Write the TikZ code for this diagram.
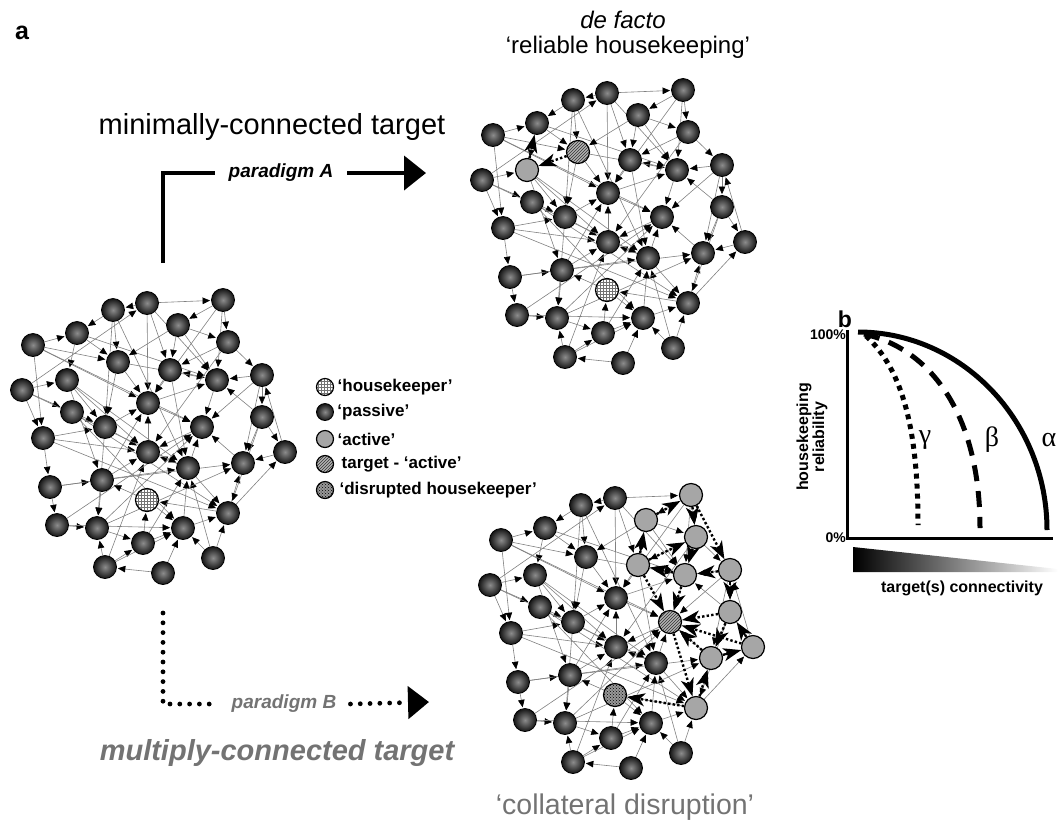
\documentclass[tikz,border=0pt]{standalone}
\usepackage{fontspec}
\setmainfont{Liberation Sans}
\newfontfamily\serifgreek{Liberation Serif}
\usetikzlibrary{arrows.meta,patterns,backgrounds,positioning}

\newcommand\fs[1]{\fontsize{#1}{#1}\selectfont}

\tikzset{
  ball/.style={circle,draw=black,minimum size=23pt,inner sep=0pt,line width=0.8pt},
  passive/.style={ball,inner color=black!45,outer color=black!92},
  active/.style={ball,fill=black!35,line width=1.2pt},
  housekeeper/.style={ball,preaction={fill=white},pattern=grid,pattern color=black!55,line width=1.2pt},
  target/.style={ball,preaction={fill=black!30},pattern=north east lines,pattern color=black!80,line width=1.2pt},
  disrupted/.style={ball,preaction={fill=black!40},pattern=crosshatch dots,pattern color=black,line width=1.2pt},
  kind/.code={\pgfkeysifdefined{/tikz/#1/.@cmd}{\pgfkeysalso{#1}}{\pgfkeysalso{passive}}},
  link/.style={draw=black!50,line width=0.6pt,-{Triangle[length=7.5pt,width=6.5pt,color=black]},shorten >=1pt},
  boldlink/.style={line width=2.4pt,dash pattern=on 2.4pt off 2.2pt,-{Stealth[length=18pt,width=13pt,inset=5pt]}},
  dotpath/.style={line width=4.8pt,dash pattern=on 0pt off 9.8pt,line cap=round},
  % special nodes of each network
  L26/.style={housekeeper},
  T26/.style={housekeeper}, T8/.style={target}, T10/.style={active},
  B26/.style={disrupted}, B17/.style={target},
  B3/.style={active}, B4/.style={active}, B7/.style={active}, B9/.style={active},
  B12/.style={active}, B13/.style={active}, B18/.style={active}, B21/.style={active},
  B22/.style={active}, B27/.style={active},
}

% node layout of the network (left copy, pixels)
\def\netnodes{1/113/310,2/147/303,3/223/300,4/178/325,5/77/333,6/33/345,7/228/342,
  8/118/362,9/170/370,10/67/380,11/22/390,12/217/380,13/262/375,14/148/403,15/72/412,
  16/105/427,17/202/427,18/262/417,19/43/438,20/148/452,21/285/452,22/243/463,23/188/468,
  24/102/480,25/50/487,26/147/500,27/228/513,28/57/525,29/97/528,30/183/528,31/143/543,
  32/213/558,33/105/567,34/163/573}
\def\netedges{2/3,3/4,4/9,2/14,2/9,1/8,1/16,6/5,6/8,5/8,11/10,11/15,11/19,11/2,6/19,
  3/7,7/13,13/12,12/9,7/9,9/14,8/14,13/18,18/21,18/12,12/17,14/17,10/16,10/24,15/16,
  16/14,16/20,19/16,19/20,19/25,20/14,21/22,27/21,27/22,22/17,18/22,23/20,23/17,24/14,
  24/20,24/29,25/28,25/24,28/29,27/26,30/27,26/30,31/26,33/31,34/33,32/30,32/23,33/20,
  33/29,34/30,16/29,10/23,15/27,6/14,8/12,15/30,28/17,29/22,13/17,32/27,4/7,1/5,5/10,
  14/12,8/16,3/12,21/13,17/20,26/24,29/31,31/30,30/23,23/27,2/1,4/12,
  6/17,11/23,5/12,1/23,3/14,7/20,19/27,25/23,28/30,29/17,10/20,4/8,9/23,13/22,18/27,
  2/12,31/23,33/30,24/22}

\newcommand\drawnet[1]{%
  \foreach \i/\px/\py in \netnodes {\node[kind/.expanded=#1\i] (#1\i) at (\px,\py) {};}
  \begin{pgfonlayer}{background}
    \foreach \a/\b in \netedges {\draw[link] (#1\a) -- (#1\b);}
  \end{pgfonlayer}
}

\begin{document}
\begin{tikzpicture}[x=1pt,y=-1pt]
  \useasboundingbox (0,0) rectangle (1060,831);

  \node[font=\bfseries\fs{25}] (lbla) at (22,33) {a};

  % networks
  \drawnet{L}
  \begin{scope}[shift={(460,-210)}]
    \drawnet{T}
    \draw[boldlink] (T8) -- (T10);
    \draw[boldlink] (T10) -- (T5);
  \end{scope}
  \begin{scope}[shift={(468,195)}]
    \drawnet{B}
    \foreach \a/\b in {4/3,3/7,3/13,9/7,7/12,13/12,12/9,12/17,9/17,13/18,18/17,21/17,
      18/22,22/21,27/22,17/27,22/17,27/26,21/18,9/4}
      {\draw[boldlink] (B\a) -- (B\b);}
  \end{scope}

  % titles
  \node[font=\itshape\fs{24}] (facto) at (623,20) {de facto};
  \node[font=\fs{24}] (reliable) at (628,47) {‘reliable housekeeping’};
  \node[font=\fs{29}] (minimal) at (272,127) {minimally-connected target};
  \node[font=\bfseries\itshape\fs{29},text=black!55] (multiply) at (277,753) {multiply-connected target};
  \node[font=\fs{28.5},text=black!55] (collateral) at (625,807) {‘collateral disruption’};

  % paradigm A
  \coordinate (startA) at (163,263);
  \coordinate (endA) at (426,173);
  \node[font=\bfseries\itshape\fs{19},inner xsep=14pt] (pA) at (281,173) {paradigm A};
  \draw[line width=4pt] (startA) |- (pA.west);
  \draw[line width=4pt,-{Triangle[length=22pt,width=34pt]}] (pA.east) -- (endA);

  % paradigm B
  \coordinate (startB) at (163,613);
  \coordinate (endB) at (429,702);
  \node[font=\bfseries\itshape\fs{19},text=black!55,inner xsep=14pt] (pB) at (284,704) {paradigm B};
  \draw[dotpath] (startB) |- (pB.west);
  \draw[dotpath,-{Triangle[length=21pt,width=32pt]}] (pB.east) -- (endB);

  % legend
  \node[housekeeper,minimum size=17pt] (lg1) at (325,387) {};
  \node[passive,minimum size=17pt] (lg2) at (325,412) {};
  \node[active,minimum size=17pt] (lg3) at (325,439) {};
  \node[target,minimum size=17pt] (lg4) at (325,464) {};
  \node[disrupted,minimum size=17pt] (lg5) at (325,490) {};
  \node[right=0pt of lg1,font=\bfseries\fs{17}] (lt1) {‘housekeeper’};
  \node[right=0pt of lg2,font=\bfseries\fs{17}] (lt2) {‘passive’};
  \node[right=0pt of lg3,font=\bfseries\fs{17}] (lt3) {‘active’};
  \node[right=4pt of lg4,font=\bfseries\fs{17}] (lt4) {target - ‘active’};
  \node[right=2pt of lg5,font=\bfseries\fs{17}] (lt5) {‘disrupted housekeeper’};

  % panel b
  \node[font=\bfseries\fs{23}] (lblb) at (845,319) {b};
  \coordinate (ytop) at (847,330);
  \coordinate (orig) at (847,538);
  \coordinate (xend) at (1053,538);
  \draw[line width=3pt] (ytop) -- (orig) -- (xend);
  \node[anchor=east,font=\bfseries\fs{14},inner sep=1pt] (hundred) at (ytop |- 0,335) {100\%};
  \node[anchor=east,font=\bfseries\fs{14},inner sep=1pt] (zero) at (orig) {0\%};
  \node[rotate=90,align=center,font=\bfseries\fs{16}] (ylab) at (812,437) {housekeeping\\reliability};
  \shade[left color=black,right color=white] (853,547) -- (1058,569) -- (1058,572) -- (853,572) -- cycle;
  \node[font=\bfseries\fs{16}] (xlab) at (962,588) {target(s) connectivity};
  \draw[line width=5pt] (858,332) .. controls (962,332) and (1047,421) .. (1047,530);
  \draw[line width=5pt,dash pattern=on 16pt off 10pt] (864,334) .. controls (935,350) and (980,420) .. (980,528);
  \draw[line width=5pt,dash pattern=on 5pt off 5pt] (866,336) .. controls (903,370) and (918,430) .. (918,525);
  \node[font=\serifgreek\fs{28}] (gamma) at (925,440) {γ};
  \node[font=\serifgreek\fs{28}] (beta) at (992,440) {β};
  \node[font=\serifgreek\fs{28}] (alpha) at (1049,440) {α};
\end{tikzpicture}
\end{document}
